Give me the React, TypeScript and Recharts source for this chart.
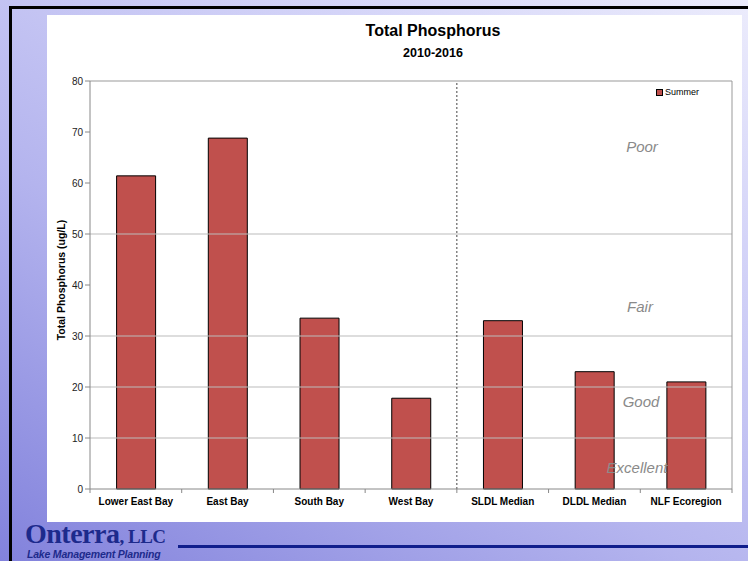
import React from 'react';
import { BarChart, Bar, XAxis, YAxis, ReferenceLine, Legend } from 'recharts';

const categories = ['Lower East Bay', 'East Bay', 'South Bay', 'West Bay', 'SLDL Median', 'DLDL Median', 'NLF Ecoregion'];
const summerValues = [61.4, 68.8, 33.5, 17.8, 33.0, 23.0, 21.0];
const yTicks = [0, 10, 20, 30, 40, 50, 60, 70, 80];
const thresholdLines = [10, 20, 30, 50];
const zoneLabels = [
  { text: 'Poor', x: 642, y: 147 },
  { text: 'Fair', x: 640, y: 307 },
  { text: 'Good', x: 641, y: 402 },
  { text: 'Excellent', x: 637, y: 468 },
];

const data = categories.map((c, i) => ({ name: c, summer: summerValues[i] }));

const FONT = 'Arial, "Liberation Sans", sans-serif';

const YLabel = () => {
  const cx = 62;
  const cy = 280;
  return (
    <text x={cx} y={cy} transform={`rotate(-90 ${cx} ${cy})`} textAnchor="middle" dominantBaseline="middle"
      fontFamily={FONT} fontSize={10.5} fontWeight="bold" fill="#000">
      Total Phosphorus (ug/L)
    </text>
  );
};

const CatTick = (props: any) => {
  const { x, y, payload, index } = props;
  const half = payload && payload.offset ? payload.offset : 0;
  const last = index === categories.length - 1;
  return (
    <g>
      <line x1={x - half} x2={x - half} y1={y - 6} y2={y - 2} stroke="#888" />
      {last && <line x1={x + half} x2={x + half} y1={y - 6} y2={y - 2} stroke="#888" />}
      <text x={x} y={y + 10} textAnchor="middle" fontFamily={FONT} fontSize={10} fontWeight="bold" fill="#000">
        {payload.value}
      </text>
    </g>
  );
};

const LegendContent = () => (
  <div style={{ display: 'flex', alignItems: 'center', fontFamily: FONT, fontSize: 9, color: '#000' }}>
    <span style={{ display: 'inline-block', width: 5, height: 5, background: '#c0504d', border: '1px solid #000', marginRight: 2 }} />
    Summer
  </div>
);

export default function App() {
  return (
    <div style={{ position: 'absolute', left: 0, top: 0, width: 748, height: 561, overflow: 'hidden',
      background: 'linear-gradient(30deg, #8282dc 0%, #b4b4ee 40%, #d4d4f8 75%, #ececfc 100%)' }}>
      <div style={{ position: 'absolute', left: 9, top: 6, width: 760, height: 600, borderLeft: '3px solid #000', borderTop: '3px solid #000' }} />
      <div style={{ position: 'absolute', left: 47, top: 15, width: 695, height: 507, background: '#fff' }} />
      <div style={{ position: 'absolute', left: 0, top: 22, width: 866, textAlign: 'center', fontFamily: FONT, fontWeight: 'bold', fontSize: 16, color: '#000' }}>
        Total Phosphorus
      </div>
      <div style={{ position: 'absolute', left: 0, top: 46, width: 866, textAlign: 'center', fontFamily: FONT, fontWeight: 'bold', fontSize: 12.5, color: '#000' }}>
        2010-2016
      </div>
      <div style={{ position: 'absolute', left: 0, top: 0 }}>
        <BarChart width={748} height={561} data={data} margin={{ top: 71, right: 16, left: 0, bottom: 42 }}
          barCategoryGap="29%">
          <XAxis dataKey="name" height={30} axisLine={{ stroke: '#888' }} tickLine={false}
            tick={<CatTick />} tickSize={4} interval={0} />
          <YAxis domain={[0, 80]} ticks={yTicks} width={90} axisLine={{ stroke: '#888' }} tickLine={{ stroke: '#888' }}
            tickSize={5} tick={{ fontFamily: FONT, fontSize: 10, fill: '#222' }} label={<YLabel />} />
          <ReferenceLine y={80} stroke="#999" />
          {thresholdLines.map((v) => (
            <ReferenceLine key={v} y={v} stroke="#bbb" strokeWidth={1.2} />
          ))}
          <ReferenceLine x="NLF Ecoregion" position="end" stroke="#999" />
          <ReferenceLine x="SLDL Median" position="start" stroke="#444" strokeDasharray="2 2" />
          <Legend verticalAlign="top" align="right" content={<LegendContent />}
            wrapperStyle={{ position: 'absolute', left: 656, top: 87, width: 60 }} />
          <Bar dataKey="summer" name="Summer" fill="#c0504d" stroke="#000" strokeWidth={1} isAnimationActive={false} />
        </BarChart>
      </div>
      {zoneLabels.map((z) => (
        <div key={z.text} style={{ position: 'absolute', left: z.x - 50, top: z.y - 10, width: 100, textAlign: 'center',
          fontFamily: FONT, fontStyle: 'italic', fontSize: 15, color: '#8a8a8a', lineHeight: '20px' }}>
          {z.text}
        </div>
      ))}
      <div style={{ position: 'absolute', left: 25, top: 519, fontFamily: '"Liberation Serif", "DejaVu Serif", serif', fontWeight: 'bold', fontSize: 28, color: '#1d2a8c', lineHeight: '30px', letterSpacing: -0.5 }}>
        Onterra<span style={{ fontSize: 19 }}>, LLC</span>
      </div>
      <div style={{ position: 'absolute', left: 27, top: 548, fontFamily: FONT, fontStyle: 'italic', fontWeight: 'bold', fontSize: 10.5, color: '#1d2a8c', lineHeight: '12px', letterSpacing: -0.2 }}>
        Lake Management Planning
      </div>
      <div style={{ position: 'absolute', left: 178, top: 545, width: 570, height: 3, background: '#101e8c' }} />
    </div>
  );
}
